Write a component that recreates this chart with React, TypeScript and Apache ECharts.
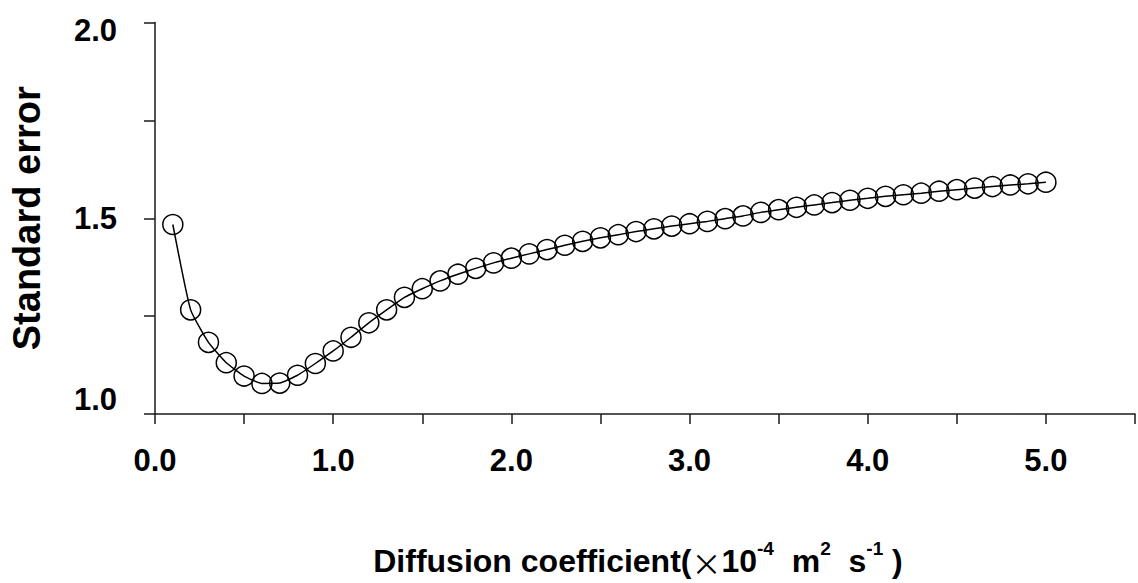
import React, { useEffect, useRef } from "react";
import * as echarts from "echarts";

const xValues = [
  0.1, 0.2, 0.3, 0.4, 0.5, 0.6, 0.7, 0.8, 0.9, 1.0,
  1.1, 1.2, 1.3, 1.4, 1.5, 1.6, 1.7, 1.8, 1.9, 2.0,
  2.1, 2.2, 2.3, 2.4, 2.5, 2.6, 2.7, 2.8, 2.9, 3.0,
  3.1, 3.2, 3.3, 3.4, 3.5, 3.6, 3.7, 3.8, 3.9, 4.0,
  4.1, 4.2, 4.3, 4.4, 4.5, 4.6, 4.7, 4.8, 4.9, 5.0,
];
const standardError = [
  1.484, 1.266, 1.183, 1.131, 1.097, 1.078, 1.079, 1.099, 1.129, 1.161,
  1.196, 1.233, 1.266, 1.298, 1.320, 1.340, 1.357, 1.372, 1.386, 1.398,
  1.409, 1.420, 1.431, 1.441, 1.450, 1.458, 1.466, 1.473, 1.480, 1.486,
  1.492, 1.499, 1.506, 1.515, 1.522, 1.528, 1.534, 1.540, 1.546, 1.551,
  1.556, 1.560, 1.564, 1.569, 1.573, 1.577, 1.581, 1.585, 1.588, 1.592,
];
const xLabelValues = [0, 1, 2, 3, 4, 5];
const yLabelValues = [1.0, 1.5, 2.0];

const FONT = "'Liberation Sans', Arial, sans-serif";
const AXIS_COLOR = "#1a1a1a";

export default function App() {
  const ref = useRef<HTMLDivElement>(null);
  useEffect(() => {
    if (!ref.current) return;
    const chart = echarts.init(ref.current, null, { renderer: "svg" });
    const data = xValues.map((x, i) => [x, standardError[i]]);
    chart.setOption({
      animation: false,
      backgroundColor: "#ffffff",
      grid: { left: 151, right: 0.5, top: 20, bottom: 169, containLabel: false },
      xAxis: {
        type: "value",
        min: 0,
        max: 5.5,
        interval: 0.5,
        name:
          "{t|Diffusion coefficient(}{x|×}{t|10}{s|-4}{t|  m}{s|2}{t|  s}{s|-1}{t| )}",
        nameLocation: "middle",
        nameGap: 125,
        nameTextStyle: {
          padding: [0, 14, 0, 0],
          rich: {
            t: { fontFamily: FONT, fontWeight: "bold", fontSize: 32, color: "#000", lineHeight: 38, verticalAlign: "bottom" },
            x: { fontFamily: "'Noto Sans CJK SC', sans-serif", fontSize: 30, color: "#000", lineHeight: 38, verticalAlign: "bottom" },
            s: { fontFamily: FONT, fontWeight: "bold", fontSize: 19, color: "#000", lineHeight: 19, verticalAlign: "top" },
          },
        },
        axisLine: { onZero: false, lineStyle: { color: AXIS_COLOR, width: 1.5 } },
        axisTick: { show: true, inside: false, length: 10, lineStyle: { color: AXIS_COLOR, width: 1.5 } },
        axisLabel: {
          margin: 31,
          fontFamily: FONT,
          fontWeight: "bold",
          fontSize: 31,
          color: "#000",
          showMaxLabel: true,
          formatter: (v: number) =>
            xLabelValues.some((t) => Math.abs(t - v) < 1e-9) ? v.toFixed(1) : "",
        },
        splitLine: { show: false },
      },
      yAxis: {
        type: "value",
        min: 1,
        max: 2,
        interval: 0.25,
        name: "Standard error",
        nameLocation: "middle",
        nameGap: 109,
        nameRotate: 90,
        nameTextStyle: { fontFamily: FONT, fontWeight: "bold", fontSize: 38, color: "#000" },
        axisLine: { lineStyle: { color: AXIS_COLOR, width: 1.5 } },
        axisTick: { show: true, inside: false, length: 11, lineStyle: { color: AXIS_COLOR, width: 1.5 } },
        axisLabel: {
          margin: 38,
          fontFamily: FONT,
          fontWeight: "bold",
          fontSize: 31,
          lineHeight: 30,
          color: "#000",
          formatter: (v: number) => {
            if (!yLabelValues.some((t) => Math.abs(t - v) < 1e-9)) return "";
            const s = v.toFixed(1);
            if (Math.abs(v - 2) < 1e-9) return "{sp| }\n" + s;
            if (Math.abs(v - 1) < 1e-9) return s + "\n{sp2| }";
            return s;
          },
          rich: {
            sp: { lineHeight: 15, fontSize: 8 },
            sp2: { lineHeight: 30, fontSize: 8 },
          },
        },
        splitLine: { show: false },
      },
      series: [
        {
          type: "line",
          data,
          smooth: 0.15,
          symbol: "circle",
          symbolSize: 20,
          showAllSymbol: true,
          lineStyle: { color: "#000", width: 1.5 },
          itemStyle: { color: "rgba(255,255,255,0)", borderColor: "#000", borderWidth: 1.5 },
          emphasis: { disabled: true },
          z: 3,
        },
      ],
    });
    return () => chart.dispose();
  }, []);
  return (
    <div
      ref={ref}
      style={{ position: "fixed", left: 0, top: 0, width: 1138, height: 583, background: "#fff" }}
    />
  );
}
